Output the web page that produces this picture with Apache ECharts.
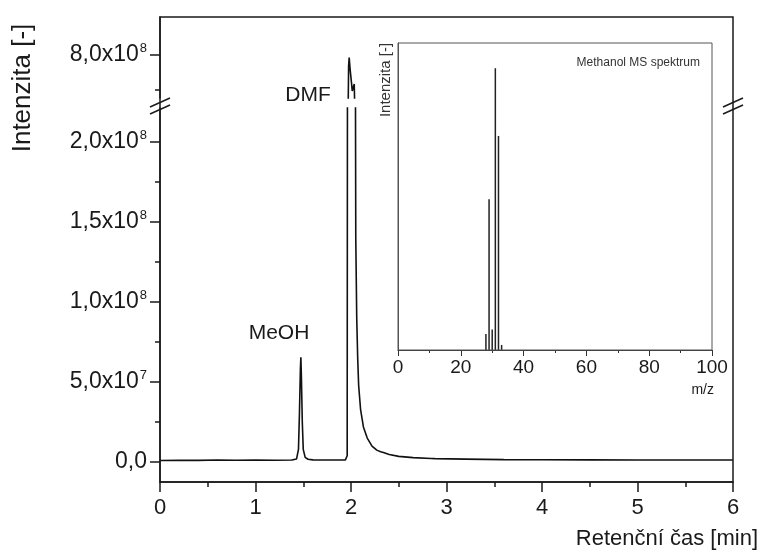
<!DOCTYPE html>
<html>
<head>
<meta charset="utf-8">
<script src="https://cdn.jsdelivr.net/npm/echarts@6/dist/echarts.min.js"></script>
<style>
  html, body { margin: 0; padding: 0; background: #fff; }
  #chart { width: 762px; height: 554px; }
</style>
</head>
<body>
<div id="chart"></div>
<script>
// Chromatogram: retention time [min] and detector intensity
const retTime = [
  0.00, 0.20, 0.40, 0.60, 0.80, 1.00, 1.20, 1.38, 1.43, 1.450, 1.460, 1.470, 1.475, 1.480, 1.490, 1.500, 1.520, 1.550, 1.60, 1.80, 1.940,
  1.955, 1.960, 1.963, 1.966, 1.970, 1.975, 1.981, 1.990, 2.005, 2.013, 2.025, 2.034, 2.040, 2.043, 2.046, 2.050, 2.060, 2.070, 2.080,
  2.100, 2.130, 2.170, 2.220, 2.270, 2.310, 2.320, 2.340, 2.400, 2.500, 2.650, 2.840, 2.860, 2.880, 3.20, 3.60, 4.00, 4.50, 5.00, 5.50, 6.00
];
const intensity = [
  1.0e6, 1.2e6, 1.1e6, 1.3e6, 1.2e6, 1.3e6, 1.2e6, 1.3e6, 2.0e6, 8.0e6, 3.0e7, 5.8e7, 6.55e7, 5.5e7, 2.5e7, 8.0e6, 3.0e6, 1.8e6, 1.4e6, 1.3e6, 1.3e6,
  1.5e6, 4.0e6, 2.5e8, 6.0e8, 7.6e8, 7.92e8, 7.98e8, 7.9e8, 7.8e8, 7.74e8, 7.75e8, 7.79e8, 7.6e8, 5.0e8, 2.5e8, 1.4e8, 9.0e7, 6.5e7, 4.8e7,
  3.3e7, 2.2e7, 1.5e7, 1.0e7, 7.5e6, 6.5e6, 7.2e6, 6.0e6, 4.8e6, 3.6e6, 2.8e6, 2.3e6, 3.0e6, 2.2e6, 1.9e6, 1.6e6, 1.5e6, 1.4e6, 1.35e6, 1.3e6, 1.3e6
];

// Methanol mass spectrum (relative abundance)
const msMz = [28, 29, 30, 31, 32, 33];
const msIntensity = [5.7, 53.5, 7.3, 100, 76, 1.8];

// Tick values of the broken intensity axis
const lowerTicks = [0, 5e7, 1e8, 1.5e8, 2e8];
const lowerMinorTicks = [2.5e7, 7.5e7, 1.25e8, 1.75e8];
const upperTicks = [8e8];
const upperMinorTicks = [7.75e8];
const tickText = { 0: ['0,0', ''], 5e7: ['5,0x10', '7'], 1e8: ['1,0x10', '8'], 1.5e8: ['1,5x10', '8'], 2e8: ['2,0x10', '8'], 8e8: ['8,0x10', '8'] };

const FONT = 'Liberation Sans, Arial, Helvetica, sans-serif';
const INK = '#1a1a1a';

const chromData = retTime.map((t, i) => [t, intensity[i]]);
const msData = msMz.map((m, i) => [m, msIntensity[i]]);

const sciLabel = {
  formatter: v => {
    const t = tickText[v];
    return t[1] ? '{b|' + t[0] + '}{s|' + t[1] + '}' : '{b|' + t[0] + '}';
  },
  margin: 13,
  rich: {
    b: { fontSize: 23, fontFamily: FONT, color: INK, lineHeight: 26 },
    s: { fontSize: 13, fontFamily: FONT, color: INK, verticalAlign: 'top', lineHeight: 26, padding: [0, 0, 10, 1] }
  }
};

const PL = 160, PR = 733, PT = 17, PB = 482;

const chart = echarts.init(document.getElementById('chart'), null, { renderer: 'canvas' });
chart.setOption({
  animation: false,
  backgroundColor: '#fff',
  grid: [
    { left: PL, right: 762 - PR, top: 108, bottom: 554 - PB, outerBoundsMode: 'none' },   // lower segment
    { left: PL, right: 762 - PR, top: PT, height: 81, outerBoundsMode: 'none' },          // upper segment
    { left: 398, right: 50, top: 43, bottom: 204, outerBoundsMode: 'none' }                // inset spectrum
  ],
  xAxis: [
    {
      gridIndex: 0, type: 'value', min: 0, max: 6, interval: 1,
      axisLine: { onZero: false, lineStyle: { color: INK, width: 1.5 } },
      axisTick: { show: true, length: 10, lineStyle: { color: INK, width: 1.5 } },
      minorTick: { show: true, splitNumber: 2, length: 5, lineStyle: { color: INK, width: 1.5 } },
      splitLine: { show: false },
      axisLabel: { fontSize: 22, fontFamily: FONT, color: INK, margin: 15 }
    },
    { gridIndex: 1, type: 'value', min: 0, max: 6, show: false },
    {
      gridIndex: 2, type: 'value', min: 0, max: 100, interval: 20,
      axisLine: { onZero: false, lineStyle: { color: '#333', width: 1.2 } },
      axisTick: { show: true, length: 6, lineStyle: { color: '#333', width: 1 } },
      minorTick: { show: true, splitNumber: 2, length: 3, lineStyle: { color: '#333', width: 1 } },
      splitLine: { show: false },
      axisLabel: { fontSize: 19, fontFamily: FONT, color: INK, margin: 8 }
    }
  ],
  yAxis: [
    {
      gridIndex: 0, type: 'value', position: 'left', min: -1.24e7, max: 2.211e8,
      axisLine: { show: true, lineStyle: { color: INK, width: 1.5 } },
      axisTick: { show: true, length: 10, customValues: lowerTicks, lineStyle: { color: INK, width: 1.5 } },
      axisLabel: Object.assign({ customValues: lowerTicks }, sciLabel),
      splitLine: { show: false }
    },
    {
      gridIndex: 1, type: 'value', position: 'left', min: 7.69e8, max: 8.27e8,
      axisLine: { show: true, lineStyle: { color: INK, width: 1.5 } },
      axisTick: { show: true, length: 10, customValues: upperTicks, lineStyle: { color: INK, width: 1.5 } },
      axisLabel: Object.assign({ customValues: upperTicks }, sciLabel),
      splitLine: { show: false }
    },
    {
      gridIndex: 2, type: 'value', position: 'left', min: 0, max: 109,
      axisLine: { show: true, lineStyle: { color: '#555', width: 1 } },
      axisTick: { show: false }, axisLabel: { show: false }, splitLine: { show: false }
    },
    {
      // minor ticks of the lower segment
      gridIndex: 0, type: 'value', position: 'left', offset: 0, min: -1.24e7, max: 2.211e8,
      axisLine: { show: false },
      axisTick: { show: true, length: 5, customValues: lowerMinorTicks, lineStyle: { color: INK, width: 1.5 } },
      axisLabel: { show: false }, splitLine: { show: false }
    },
    {
      // minor ticks of the upper segment
      gridIndex: 1, type: 'value', position: 'left', offset: 0, min: 7.69e8, max: 8.27e8,
      axisLine: { show: false },
      axisTick: { show: true, length: 5, customValues: upperMinorTicks, lineStyle: { color: INK, width: 1.5 } },
      axisLabel: { show: false }, splitLine: { show: false }
    }
  ],
  series: [
    {
      type: 'line', xAxisIndex: 0, yAxisIndex: 0, data: chromData, showSymbol: false, clip: true,
      lineStyle: { color: '#111', width: 1.6 }
    },
    {
      type: 'line', xAxisIndex: 1, yAxisIndex: 1, data: chromData, showSymbol: false, clip: true,
      lineStyle: { color: '#111', width: 1.6 }
    },
    {
      type: 'bar', xAxisIndex: 2, yAxisIndex: 2, data: msData, barWidth: 1.5,
      itemStyle: { color: '#222' }
    }
  ],
  graphic: [
    // outer frame of the chromatogram
    { type: 'rect', shape: { x: PL, y: PT, width: PR - PL, height: PB - PT }, style: { fill: 'none', stroke: INK, lineWidth: 1.5 }, z: 5 },
    // inset frame
    { type: 'rect', shape: { x: 398, y: 43, width: 314, height: 307 }, style: { fill: 'none', stroke: '#555', lineWidth: 1 }, z: 5 },
    // axis break marks
    { type: 'line', shape: { x1: 150, y1: 107, x2: 170, y2: 98 }, style: { stroke: INK, lineWidth: 1.5 }, z: 6 },
    { type: 'line', shape: { x1: 150, y1: 114, x2: 170, y2: 105 }, style: { stroke: INK, lineWidth: 1.5 }, z: 6 },
    { type: 'line', shape: { x1: 723, y1: 107, x2: 743, y2: 98 }, style: { stroke: INK, lineWidth: 1.5 }, z: 6 },
    { type: 'line', shape: { x1: 723, y1: 114, x2: 743, y2: 105 }, style: { stroke: INK, lineWidth: 1.5 }, z: 6 },
    // axis titles
    { type: 'text', x: 23, y: 88, rotation: Math.PI / 2, style: { text: 'Intenzita [-]', font: '26px ' + FONT, fill: INK, align: 'center', verticalAlign: 'middle' }, z: 6 },
    { type: 'text', x: 758, y: 539, style: { text: 'Retenční čas [min]', font: '22px ' + FONT, fill: INK, align: 'right', verticalAlign: 'middle' }, z: 6 },
    { type: 'text', x: 386, y: 80, rotation: Math.PI / 2, style: { text: 'Intenzita [-]', font: '15px ' + FONT, fill: '#333', align: 'center', verticalAlign: 'middle' }, z: 6 },
    { type: 'text', x: 714, y: 390, style: { text: 'm/z', font: '14px ' + FONT, fill: INK, align: 'right', verticalAlign: 'middle' }, z: 6 },
    // annotations
    { type: 'text', x: 700, y: 63, style: { text: 'Methanol MS spektrum', font: '12px ' + FONT, fill: '#333', align: 'right', verticalAlign: 'middle' }, z: 6 },
    { type: 'text', x: 279, y: 333, style: { text: 'MeOH', font: '21px ' + FONT, fill: INK, align: 'center', verticalAlign: 'middle' }, z: 6 },
    { type: 'text', x: 308, y: 95, style: { text: 'DMF', font: '21px ' + FONT, fill: INK, align: 'center', verticalAlign: 'middle' }, z: 6 }
  ]
});
</script>
</body>
</html>
